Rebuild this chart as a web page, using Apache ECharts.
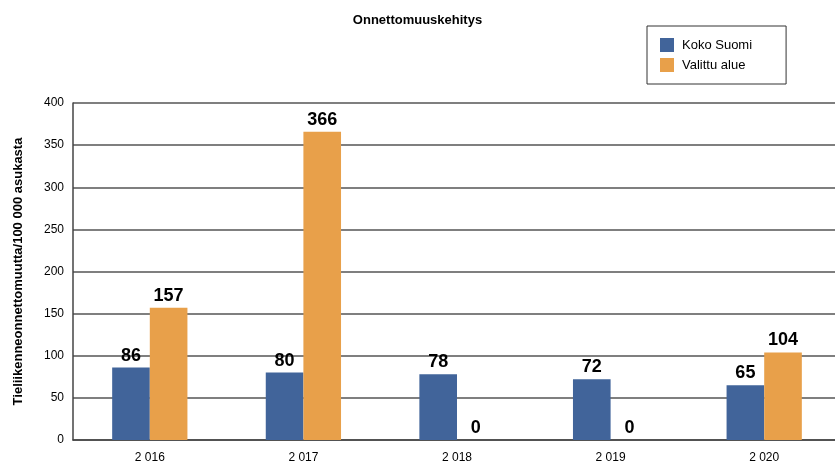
<!DOCTYPE html>
<html>
<head>
<meta charset="utf-8">
<script src="https://cdn.jsdelivr.net/npm/echarts@6/dist/echarts.min.js"></script>
<style>
	body { margin: 0; background: #fff; }
	#chart { width: 835px; height: 466px; }
</style>
</head>
<body>
<div id="chart"></div>
<script>
	const years = ['2 016', '2 017', '2 018', '2 019', '2 020'];
	const kokoSuomi = [86, 80, 78, 72, 65];
	const valittuAlue = [157, 366, 0, 0, 104];
	const yTicks = [0, 50, 100, 150, 200, 250, 300, 350, 400];

	const chart = echarts.init(document.getElementById('chart'));
	const barLabel = {
		show: true,
		position: 'top',
		distance: 3,
		color: '#000',
		fontFamily: 'Liberation Sans',
		fontWeight: 'bold',
		fontSize: 18
	};
	chart.setOption({
		animation: false,
		title: {
			text: 'Onnettomuuskehitys',
			left: 'center',
			top: 9,
			textStyle: { fontFamily: 'Liberation Sans', fontWeight: 'bold', fontSize: 13, color: '#000' }
		},
		legend: {
			orient: 'vertical',
			left: 647,
			top: 26,
			itemWidth: 14,
			itemHeight: 14,
			itemGap: 6,
			padding: [12, 34, 12, 13],
			borderColor: '#333',
			borderWidth: 1,
			icon: 'rect',
			textStyle: { fontFamily: 'Liberation Sans', fontSize: 13, color: '#000', padding: [0, 0, 0, 3] },
			data: ['Koko Suomi', 'Valittu alue']
		},
		grid: { left: 73, width: 768, top: 103, bottom: 26, outerBoundsMode: 'none' },
		xAxis: {
			type: 'category',
			data: years,
			axisTick: { show: false },
			axisLine: { lineStyle: { color: '#444', width: 1.5 } },
			axisLabel: { fontFamily: 'Liberation Sans', fontSize: 12, color: '#000', margin: 12 }
		},
		yAxis: {
			type: 'value',
			min: yTicks[0],
			max: yTicks[yTicks.length - 1],
			interval: 50,
			name: 'Tieliikenneonnettomuutta/100 000 asukasta',
			nameLocation: 'middle',
			nameGap: 48,
			nameTextStyle: { fontFamily: 'Liberation Sans', fontWeight: 'bold', fontSize: 13, color: '#000' },
			axisLine: { show: true, lineStyle: { color: '#444', width: 1.5 } },
			axisTick: { show: false },
			axisLabel: { fontFamily: 'Liberation Sans', fontSize: 12, color: '#000', margin: 9 },
			splitLine: { lineStyle: { color: '#555', width: 1.5 } }
		},
		series: [
			{
				name: 'Koko Suomi',
				type: 'bar',
				data: kokoSuomi,
				barGap: '0%',
				barCategoryGap: '51%',
				itemStyle: { color: '#41649A' },
				label: barLabel
			},
			{
				name: 'Valittu alue',
				type: 'bar',
				data: valittuAlue,
				itemStyle: { color: '#E8A04A' },
				label: barLabel
			}
		]
	});
</script>
</body>
</html>
